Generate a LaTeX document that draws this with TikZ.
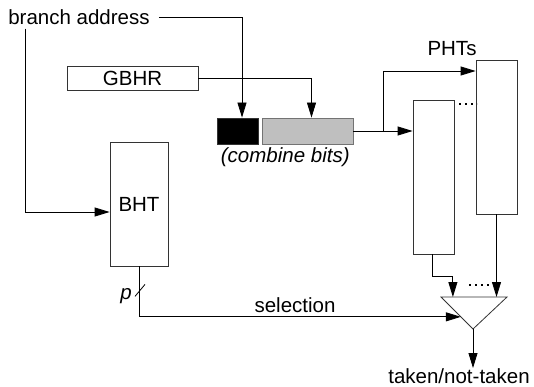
\documentclass[tikz,border=0pt]{standalone}
\usepackage{fontspec}
\setmainfont{Liberation Sans}
\usepackage{tikz}
\usetikzlibrary{positioning, calc, arrows.meta}
\tikzstyle{arrow} = [line width=0.8pt,-{Triangle[length=15pt,width=9pt]}]
\tikzstyle{wire} = [line width=0.8pt]

\begin{document}
\begin{tikzpicture}[
    x=1pt, y=-1pt,
    every node/.style={font=\fontsize{20.5}{24}\selectfont, inner sep=0pt},
    tbl/.style={draw=black!80, line width=0.8pt, minimum width=#1},
    tbl/.default=41pt,
    dots/.style={line width=1.6pt, dash pattern=on 1.6pt off 4.4pt}
  ]
  \useasboundingbox (0,0) rectangle (534,387);

  % inputs
  \node (addr) at (79,17) {branch address};
  \node[tbl=131pt, minimum height=24pt] (gbhr) at (132.5,78) {GBHR};

  % combined index
  \node[tbl=41pt, minimum height=26pt, fill=black] (hi) at (238,131) {};
  \node[tbl=91pt, minimum height=26pt, fill=black!25, draw=black!55] (lo) at (307.5,131) {};
  \coordinate (comb) at ($(hi.south west)!0.5!(lo.south east)$);
  \node[below=3pt of comb, font=\fontsize{20.5}{24}\selectfont\itshape] (combtxt) {(combine bits)};

  % tables
  \node[tbl=58pt, minimum height=124pt] (bht) at (139,204) {BHT};
  \node[tbl, minimum height=154pt] (pht1) at (433.5,177) {};
  \node[tbl, minimum height=154pt] (pht2) at (496.5,137) {};
  \node (phts) at (452,49) {PHTs};
  \draw[dots] (459,104) -- (477,104);

  % selector
  \coordinate (muxA) at (441,297);
  \coordinate (muxB) at (507,297);
  \coordinate (muxC) at (473,329);
  \draw[wire, draw=black!80] (muxA) -- (muxB) -- (muxC) -- cycle;
  \coordinate (in1) at ($(muxA)!0.18!(muxB)$);
  \coordinate (in2) at ($(muxA)!0.84!(muxB)$);
  \coordinate (muxsel) at ($(muxA)!0.62!(muxC)$);
  \draw[dots] (469,285) -- (489,285);
  \node[below=39pt of muxC, xshift=-14pt] (tnt) {taken/not-taken};

  % connections
  \draw[arrow] ([xshift=9pt]addr.east) -| ([xshift=4pt]hi.north);
  \draw[arrow] ([xshift=-54pt,yshift=-4pt]addr.south) |- ([yshift=-8pt]bht.west);
  \draw[arrow] (gbhr.east) -| ([xshift=4pt]lo.north);
  \coordinate[right=30pt of lo] (fork);
  \draw[wire] (lo.east) -- (fork);
  \draw[arrow] (fork) -- (fork -| pht1.west);
  \draw[arrow] (fork) |- ([yshift=66pt]pht2.west);
  \draw[arrow] ([xshift=-1pt]pht1.south) -- ++(0,22) -| (in1);
  \draw[arrow] (pht2.south) -- (pht2.south |- in2);
  \draw[arrow] (bht.south) |- (muxsel);
  \draw[arrow] (muxC) -- (muxC |- tnt.north);

  % bus width
  \draw[wire] ($(bht.south)+(-4,30)$) -- ++(10,-12);
  \node[font=\fontsize{20.5}{24}\selectfont\itshape] (pw) at (126,296) {p};
  \node (sel) at (295,305) {selection};
\end{tikzpicture}
\end{document}
